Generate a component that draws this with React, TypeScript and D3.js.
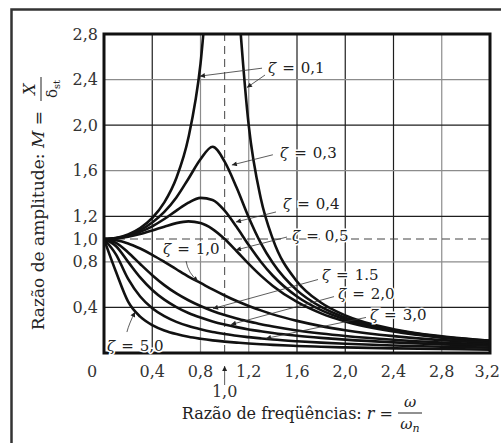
import React from 'react';
import * as d3 from 'd3';

// frequency ratio r = w / wn (shared by every curve)
const RATIO = [0, 0.1, 0.2, 0.3, 0.4, 0.5, 0.6, 0.7, 0.8, 0.9, 1.0, 1.1, 1.2, 1.3, 1.4, 1.6, 1.8, 2.0, 2.4, 2.8, 3.2];

// amplitude ratio M = X / dst for each damping ratio
const M_01 = [1, 1.01, 1.041, 1.097, 1.185, 1.322, 1.536, 1.891, 2.538, 3.82, 5.0, 3.288, 1.995, 1.356, 1.0, 0.628, 0.441, 0.33, 0.209, 0.146, 0.108];
const M_03 = [1, 1.008, 1.034, 1.078, 1.145, 1.238, 1.365, 1.53, 1.7, 1.81, 1.68, 1.45, 1.19, 0.965, 0.79, 0.55, 0.404, 0.31, 0.201, 0.142, 0.106];
const M_04 = [1, 1.007, 1.027, 1.063, 1.112, 1.176, 1.25, 1.32, 1.362, 1.343, 1.25, 1.105, 0.947, 0.801, 0.678, 0.496, 0.376, 0.294, 0.195, 0.139, 0.104];
const M_05 = [1, 1.005, 1.02, 1.044, 1.075, 1.109, 1.14, 1.155, 1.14, 1.087, 1.0, 0.893, 0.782, 0.679, 0.589, 0.448, 0.348, 0.277, 0.188, 0.135, 0.102];
const M_10 = [1, 0.99, 0.962, 0.917, 0.862, 0.8, 0.735, 0.671, 0.615, 0.558, 0.505, 0.456, 0.413, 0.374, 0.339, 0.282, 0.236, 0.2, 0.148, 0.113, 0.089];
const M_15 = [1, 0.967, 0.883, 0.781, 0.683, 0.596, 0.523, 0.463, 0.412, 0.369, 0.333, 0.302, 0.276, 0.252, 0.232, 0.198, 0.171, 0.149, 0.116, 0.092, 0.075];
const M_20 = [1, 0.937, 0.8, 0.664, 0.553, 0.468, 0.403, 0.351, 0.311, 0.277, 0.25, 0.227, 0.207, 0.191, 0.176, 0.152, 0.133, 0.117, 0.093, 0.076, 0.063];
const M_30 = [1, 0.864, 0.651, 0.496, 0.393, 0.323, 0.273, 0.236, 0.208, 0.185, 0.167, 0.151, 0.139, 0.128, 0.118, 0.103, 0.091, 0.081, 0.066, 0.055, 0.047];
const M_50 = [1, 0.711, 0.451, 0.319, 0.245, 0.198, 0.166, 0.142, 0.125, 0.111, 0.1, 0.091, 0.083, 0.077, 0.071, 0.062, 0.055, 0.049, 0.041, 0.035, 0.03];

const CURVES = [M_01, M_03, M_04, M_05, M_10, M_15, M_20, M_30, M_50];

const X_TICKS = [0.4, 0.8, 1.2, 1.6, 2.0, 2.4, 2.8, 3.2];
const Y_TICKS = [0.4, 0.8, 1.0, 1.2, 1.6, 2.0, 2.4, 2.8];
const V_GRID = [0.4, 0.8, 1.2, 1.6, 2.0, 2.4, 2.8];
const H_GRID = [0.4, 0.8, 1.2, 1.6, 2.0, 2.4];

// damping labels: text anchor (r, M) and leader lines [from, to] in data units
const LABELS = ['0,1', '0,3', '0,4', '0,5', '1,0', '1.5', '2,0', '3,0', '5,0'];
const LABEL_AT = [
  [1.36, 2.46], [1.46, 1.71], [1.484, 1.264], [1.559, 0.983], [0.489, 0.869],
  [1.807, 0.64], [1.94, 0.475], [2.205, 0.293], [0.025, 0.014],
];
const LEADERS = [
  [[1.31, 2.5], [0.795, 2.43]],
  [[1.335, 2.44], [1.185, 2.33]],
  [[1.4, 1.74], [1.06, 1.65]],
  [[1.426, 1.238], [1.094, 1.15]],
  [[1.517, 1.018], [1.094, 0.904]],
  [[1.774, 0.645], [0.904, 0.39]],
  [[1.907, 0.495], [1.053, 0.25]],
  [[2.172, 0.312], [1.343, 0.128]],
];
const CURVED_LEADERS = [
  [[0.68, 0.807], [0.78, 0.63]],
  [[0.19, 0.184], [0.257, 0.36]],
];

const W = 501;
const H = 443;
const fmt = (v: number) => d3.format('.1f')(v).replace('.', ',');
const FONT = 'DejaVu Serif, Liberation Serif, serif';

export default function App() {
  const x = d3.scaleLinear().domain([0, 3.2]).range([104, 490]);
  const y = d3.scaleLinear().domain([0, 2.8]).range([353, 34]);

  const line = d3
    .line<number>()
    .x((_, i) => x(RATIO[i]))
    .y((d) => y(d))
    .curve(d3.curveMonotoneX);

  const darkV = new Set([0.4, 1.6, 2.0, 2.4]);
  const darkH = new Set([0.4, 1.2, 2.0]);

  return (
    <svg width={W} height={H} style={{ position: 'absolute', left: 0, top: 0, background: '#fff' }} fontFamily={FONT}>
      <defs>
        <clipPath id="plot">
          <rect x={x(0)} y={y(2.8)} width={x(3.2) - x(0)} height={y(0) - y(2.8)} />
        </clipPath>
        <marker id="ah" viewBox="0 0 10 10" refX={10} refY={5} markerWidth={7} markerHeight={5} markerUnits="userSpaceOnUse" orient="auto">
          <path d="M0,0 L10,5 L0,10 z" fill="#222" />
        </marker>
      </defs>

      {/* outer frame */}
      <rect x={11.5} y={9.5} width={600} height={600} fill="none" stroke="#333" strokeWidth={2.5} />

      {/* grid */}
      {V_GRID.map((v) => (
        <line key={'v' + v} x1={x(v)} x2={x(v)} y1={y(0)} y2={y(2.8)} stroke={darkV.has(v) ? '#1e1e1e' : '#8c8c8c'} strokeWidth={1.2} />
      ))}
      {H_GRID.map((v) => (
        <line key={'h' + v} x1={x(0)} x2={x(3.2)} y1={y(v)} y2={y(v)} stroke={darkH.has(v) ? '#1e1e1e' : '#8c8c8c'} strokeWidth={1.2} />
      ))}
      <line x1={x(0)} x2={x(3.2)} y1={y(1)} y2={y(1)} stroke="#444" strokeWidth={1.1} strokeDasharray="8,5" />
      <line x1={x(1)} x2={x(1)} y1={y(0)} y2={y(2.8)} stroke="#555" strokeWidth={1.1} strokeDasharray="8,5" />

      {/* curves */}
      <g clipPath="url(#plot)">
        {CURVES.map((c, i) => (
          <path key={i} d={line(c) || ''} fill="none" stroke="#111" strokeWidth={2.6} strokeLinejoin="round" />
        ))}
      </g>

      {/* plot border */}
      <rect x={x(0)} y={y(2.8)} width={x(3.2) - x(0)} height={y(0) - y(2.8)} fill="none" stroke="#111" strokeWidth={3} />

      {/* leaders */}
      {LEADERS.map(([a, b], i) => (
        <line key={'l' + i} x1={x(a[0])} y1={y(a[1])} x2={x(b[0])} y2={y(b[1])} stroke="#333" strokeWidth={0.8} markerEnd="url(#ah)" />
      ))}
      {CURVED_LEADERS.map(([a, b], i) => {
        const x0 = x(a[0]), y0 = y(a[1]), x1 = x(b[0]), y1 = y(b[1]);
        return (
          <path key={'c' + i} d={`M${x0},${y0} Q${x0 + 2},${(y0 + y1) / 2 + 2} ${x1},${y1}`} fill="none" stroke="#333" strokeWidth={0.8} markerEnd="url(#ah)" />
        );
      })}

      {/* damping labels */}
      {LABELS.map((t, i) => (
        <text key={'t' + i} x={x(LABEL_AT[i][0])} y={y(LABEL_AT[i][1])} fontSize={15} fill="#222" stroke="#fff" strokeWidth={3} paintOrder="stroke">
          <tspan fontStyle="italic">ζ</tspan>
          <tspan dx={6}>=</tspan>
          <tspan dx={6}>{t}</tspan>
        </text>
      ))}

      {/* tick labels */}
      {Y_TICKS.map((v) => (
        <text key={'yt' + v} x={x(0) - 6} y={y(v)} dy="0.35em" textAnchor="end" fontSize={16} fill="#333">
          {fmt(v)}
        </text>
      ))}
      {X_TICKS.map((v) => (
        <text key={'xt' + v} x={v === 3.2 ? W - 1 : x(v)} y={y(0) + 24} textAnchor={v === 3.2 ? 'end' : 'middle'} fontSize={16} fill="#333">
          {fmt(v)}
        </text>
      ))}
      <text x={x(0) - 12} y={y(0) + 24} textAnchor="middle" fontSize={16} fill="#333">0</text>
      <text x={x(1)} y={y(0) + 44} textAnchor="middle" fontSize={16} fill="#333">1,0</text>
      <line x1={x(1)} x2={x(1)} y1={y(0) + 32} y2={y(0) + 13} stroke="#333" strokeWidth={0.8} markerEnd="url(#ah)" />

      {/* x axis title */}
      <text x={393} y={419} textAnchor="end" fontSize={16} fill="#222">
        Razão de freqüências: <tspan fontStyle="italic">r</tspan> =
      </text>
      <text x={410} y={407} textAnchor="middle" fontSize={15} fontStyle="italic" fill="#222">ω</text>
      <line x1={398} x2={422} y1={413} y2={413} stroke="#222" strokeWidth={1} />
      <text x={410} y={429} textAnchor="middle" fontSize={15} fontStyle="italic" fill="#222">
        ω<tspan fontSize={11} dy={3}>n</tspan>
      </text>

      {/* y axis title */}
      <g transform="translate(44,0) rotate(-90)">
        <text x={-111} y={0} textAnchor="end" fontSize={17} fill="#222">
          Razão de amplitude: <tspan fontStyle="italic">M</tspan> =
        </text>
        <text x={-89} y={-9} textAnchor="middle" fontSize={16} fontStyle="italic" fill="#222">X</text>
        <line x1={-101} x2={-77} y1={-3} y2={-3} stroke="#222" strokeWidth={1} />
        <text x={-89} y={13} textAnchor="middle" fontSize={15} fill="#222">
          δ<tspan fontSize={10} dy={3}>st</tspan>
        </text>
      </g>
    </svg>
  );
}
